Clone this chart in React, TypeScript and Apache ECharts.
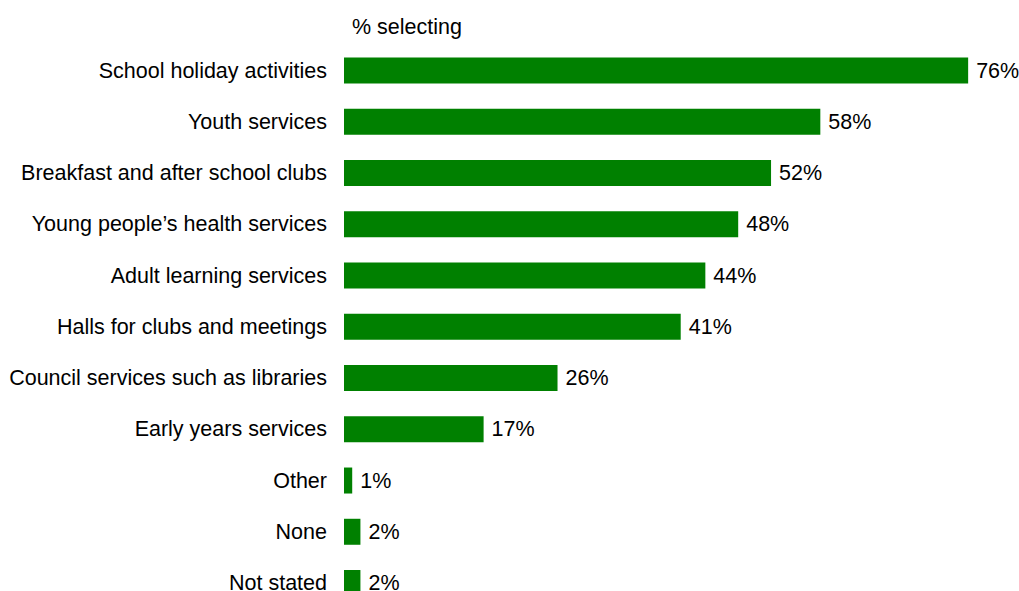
import React, { useEffect, useRef } from "react";
import * as echarts from "echarts";

const categories = [
  "School holiday activities",
  "Youth services",
  "Breakfast and after school clubs",
  "Young people\u2019s health services",
  "Adult learning services",
  "Halls for clubs and meetings",
  "Council services such as libraries",
  "Early years services",
  "Other",
  "None",
  "Not stated",
];
const values = [76, 58, 52, 48, 44, 41, 26, 17, 1, 2, 2];
const axisTitle = "% selecting";

export default function App() {
  const ref = useRef<HTMLDivElement>(null);
  useEffect(() => {
    if (!ref.current) return;
    const chart = echarts.init(ref.current, null, { renderer: "svg" });
    const font = "Liberation Sans, Arial, sans-serif";
    const fs = 21.5;
    chart.setOption({
      animation: false,
      graphic: [
        {
          type: "text",
          left: 352,
          top: 16,
          style: { text: axisTitle, font: `${fs}px ${font}`, fill: "#000" },
        },
      ],
      grid: { left: 344, top: 44.9, width: 657, height: 563.75 },
      xAxis: {
        type: "value",
        min: 0,
        max: 80,
        show: false,
      },
      yAxis: {
        type: "category",
        data: categories,
        inverse: true,
        axisLine: { show: false },
        axisTick: { show: false },
        axisLabel: {
          margin: 17,
          fontSize: fs,
          lineHeight: 16,
          fontFamily: font,
          color: "#000",
        },
      },
      series: [
        {
          type: "bar",
          data: values,
          barWidth: 26,
          itemStyle: { color: "#008000" },
          label: {
            show: true,
            position: "right",
            distance: 8,
            formatter: "{c}%",
            fontSize: fs,
            lineHeight: 16,
            fontFamily: font,
            color: "#000",
          },
        },
      ],
    });
    return () => chart.dispose();
  }, []);
  return (
    <div
      ref={ref}
      style={{ position: "fixed", left: 0, top: 0, width: 1019, height: 620, background: "#fff" }}
    />
  );
}
